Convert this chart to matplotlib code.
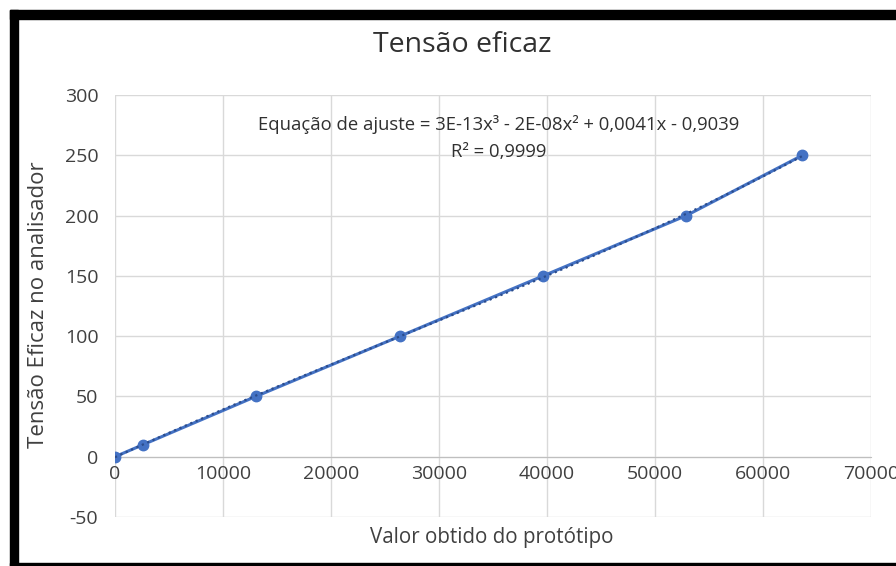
import numpy as np
import matplotlib
matplotlib.use("Agg")
import matplotlib.pyplot as plt
from matplotlib.patches import Rectangle

plt.rcParams['font.family'] = ['Open Sans', 'DejaVu Sans']

# valores
valor_prototipo = [0, 2600, 13050, 26400, 39650, 52900, 63650]
tensao_eficaz = [0, 10, 50, 100, 150, 200, 250]
xticks = [0, 10000, 20000, 30000, 40000, 50000, 60000, 70000]
yticks = [-50, 0, 50, 100, 150, 200, 250, 300]

fig = plt.figure(figsize=(8.96, 5.66), dpi=100)
ax = fig.add_axes([115/896, 1-517/566, (871-115)/896, (517-95)/566])

grid_c = '#D9D9D9'
txt_c = '#404040'
blue = '#4472C4'

ax.plot(valor_prototipo, tensao_eficaz, '-o', color=blue, lw=2.2,
        markersize=7.5, zorder=3)

# linha de tendencia polinomial (ordem 3)
coef = np.polyfit(valor_prototipo, tensao_eficaz, 3)
xs = np.linspace(min(valor_prototipo), max(valor_prototipo), 200)
ax.plot(xs, np.polyval(coef, xs), ':', color='#2B4C8C', lw=1.6, zorder=4)

ax.set_xlim(0, 70000)
ax.set_ylim(-50, 300)
ax.set_xticks(xticks)
ax.set_yticks(yticks)
ax.set_xticklabels([str(v) for v in xticks])
ax.set_yticklabels([str(v) for v in yticks])
ax.grid(True, color=grid_c, lw=1)
ax.set_axisbelow(True)
for s in ['top', 'right', 'left']:
    ax.spines[s].set_visible(False)
ax.spines['bottom'].set_position(('data', 0))
ax.spines['bottom'].set_color('#BFBFBF')
ax.tick_params(length=0, labelsize=14, colors=txt_c)
ax.tick_params(axis='x', pad=6)
ax.tick_params(axis='y', pad=12)

fig.text(462/896, 1-45/566, 'Tensão eficaz', ha='center', va='center',
         fontsize=20.5, color='#303030')
fig.text(38/896, 1-305/566, 'Tensão Eficaz no analisador', ha='center',
         va='center', rotation=90, fontsize=16, color=txt_c)
fig.text(492/896, 1-538/566, 'Valor obtido do protótipo', ha='center',
         va='center', fontsize=14.8, color=txt_c)
fig.text(499/896, 1-124/566,
         'Equação de ajuste = 3E-13x³ - 2E-08x² + 0,0041x - 0,9039',
         ha='center', va='center', fontsize=13.3, color='#303030')
fig.text(499/896, 1-152/566, 'R² = 0,9999', ha='center', va='center',
         fontsize=13.3, color='#303030')

# moldura preta do recorte
fig.patches.append(Rectangle((10/896, 1-19/566), 886/896, 9/566,
                             transform=fig.transFigure, color='black'))
fig.patches.append(Rectangle((10/896, 0), 8/896, 1-10/566,
                             transform=fig.transFigure, color='black'))
fig.patches.append(Rectangle((10/896, 0), 886/896, 3/566,
                             transform=fig.transFigure, color='black'))

fig.savefig('out.png', dpi=100)
